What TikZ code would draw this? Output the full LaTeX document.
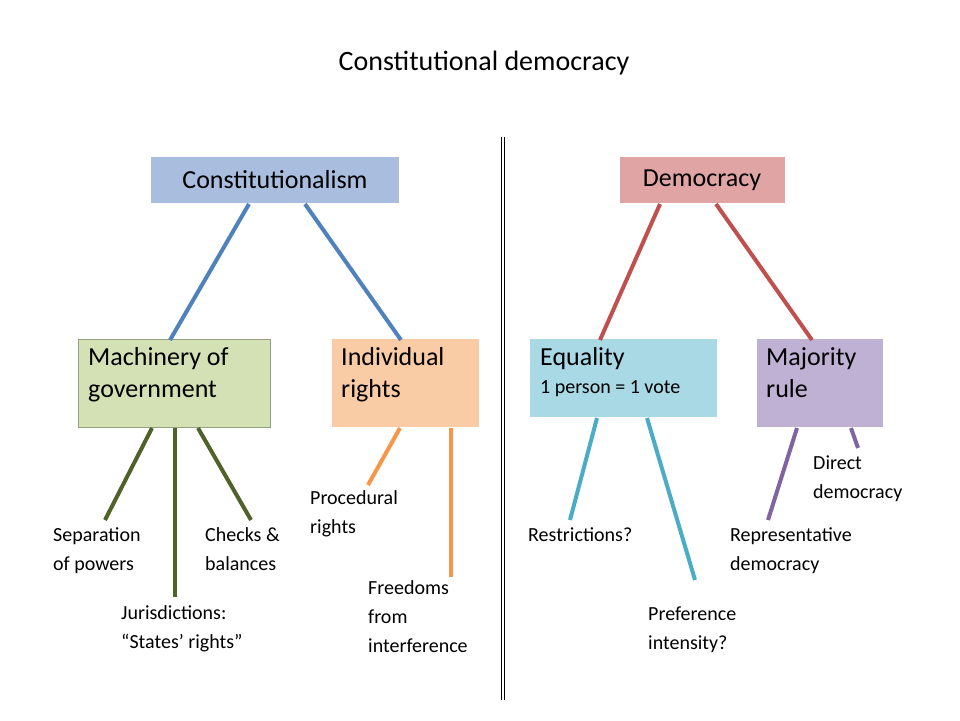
\documentclass[tikz,border=0pt]{standalone}
\usepackage{fontspec}
\setmainfont{Carlito}
\usetikzlibrary{positioning}
\definecolor{cblue}{HTML}{A9BEDF}
\definecolor{cpink}{HTML}{E0A4A4}
\definecolor{cgreen}{HTML}{D3E1B4}
\definecolor{corange}{HTML}{FACCA5}
\definecolor{ccyan}{HTML}{A8D9E5}
\definecolor{cpurple}{HTML}{BFB1D4}
\definecolor{lblue}{HTML}{4F81BD}
\definecolor{lred}{HTML}{C0504D}
\definecolor{lgreen}{HTML}{4F6228}
\definecolor{lorange}{HTML}{F79646}
\definecolor{lteal}{HTML}{4BACC6}
\definecolor{lpurple}{HTML}{8064A2}
\tikzset{
    %Define style for boxes
    box/.style={
           anchor=north west,
           inner sep=0pt,
           font=\fontsize{26}{32}\selectfont,
           align=left},
    % Define label style
    lab/.style={
           anchor=north west,
           inner sep=0pt,
           font=\fontsize{20}{29}\selectfont,
           align=left},
    % Define line style
    ln/.style={line width=4pt}
}
\begin{document}
\begin{tikzpicture}[x=1pt,y=-1pt]
\useasboundingbox (0,0) rectangle (960,720);
%Title
\node (title) at (484,63) {\fontsize{28}{34}\selectfont Constitutional democracy};
\draw[line width=1pt,double distance=2pt] (503,137) -- (503,700);
%Boxes
\fill[cblue] (151,157) rectangle (399,203);
\node (cons) at (275,180) {\fontsize{26}{32}\selectfont Constitutionalism};
\fill[cpink] (620,157) rectangle (785,203);
\node (dem) at (702,180) {\fontsize{26}{32}\selectfont Democracy};
\filldraw[fill=cgreen,draw=lgreen!60] (78,339) rectangle (270,427);
\node[box] (mach) at (88,347) {Machinery of\\government};
\fill[corange] (332,339) rectangle (479,427);
\node[box] (ind) at (341,347) {Individual\\rights};
\fill[ccyan] (530,339) rectangle (717,417);
\node[box] (eq) at (540,347) {Equality\\[-4pt]{\fontsize{20}{26}\selectfont 1 person = 1 vote}};
\fill[cpurple] (757,339) rectangle (883,427);
\node[box] (maj) at (766,347) {Majority\\rule};
%Labels
\node[lab] (sep) at (53,527) {Separation\\of powers};
\node[lab] (chk) at (205,527) {Checks \&\\balances};
\node[lab] (jur) at (121,605) {Jurisdictions:\\“States’ rights”};
\node[lab] (proc) at (310,490) {Procedural\\rights};
\node[lab] (free) at (368,580) {Freedoms\\from\\interference};
\node[lab] (restr) at (528,527) {Restrictions?};
\node[lab] (pref) at (648,607) {Preference\\intensity?};
\node[lab] (rep) at (730,527) {Representative\\democracy};
\node[lab] (dir) at (813,456) {Direct\\democracy};
%Connectors
\coordinate (c1) at (249,204); \coordinate (c2) at (305,204);
\coordinate (m1) at (170,340); \coordinate (i1) at (401,340);
\draw[ln,lblue] (c1) -- (m1);
\draw[ln,lblue] (c2) -- (i1);
\coordinate (d1) at (660,204); \coordinate (d2) at (716,204);
\coordinate (e1) at (600,340); \coordinate (r1) at (812,340);
\draw[ln,lred] (d1) -- (e1);
\draw[ln,lred] (d2) -- (r1);
\coordinate (g1) at (152,428); \coordinate (g2) at (175,428); \coordinate (g3) at (198,428);
\coordinate (sepT) at (105,520); \coordinate (jurT) at (175,597); \coordinate (chkT) at (251,520);
\draw[ln,lgreen] (g1) -- (sepT);
\draw[ln,lgreen] (g2) -- (jurT);
\draw[ln,lgreen] (g3) -- (chkT);
\coordinate (o1) at (400,428); \coordinate (o2) at (451,428);
\coordinate (procT) at (368,485); \coordinate (freeT) at (451,577);
\draw[ln,lorange] (o1) -- (procT);
\draw[ln,lorange] (o2) -- (freeT);
\coordinate (t1) at (597,418); \coordinate (t2) at (647,418);
\coordinate (restrT) at (570,520); \coordinate (prefT) at (695,580);
\draw[ln,lteal] (t1) -- (restrT);
\draw[ln,lteal] (t2) -- (prefT);
\coordinate (p1) at (797,428); \coordinate (p2) at (851,428);
\coordinate (repT) at (768,520); \coordinate (dirT) at (858,448);
\draw[ln,lpurple] (p1) -- (repT);
\draw[ln,lpurple] (p2) -- (dirT);
\end{tikzpicture}
\end{document}
